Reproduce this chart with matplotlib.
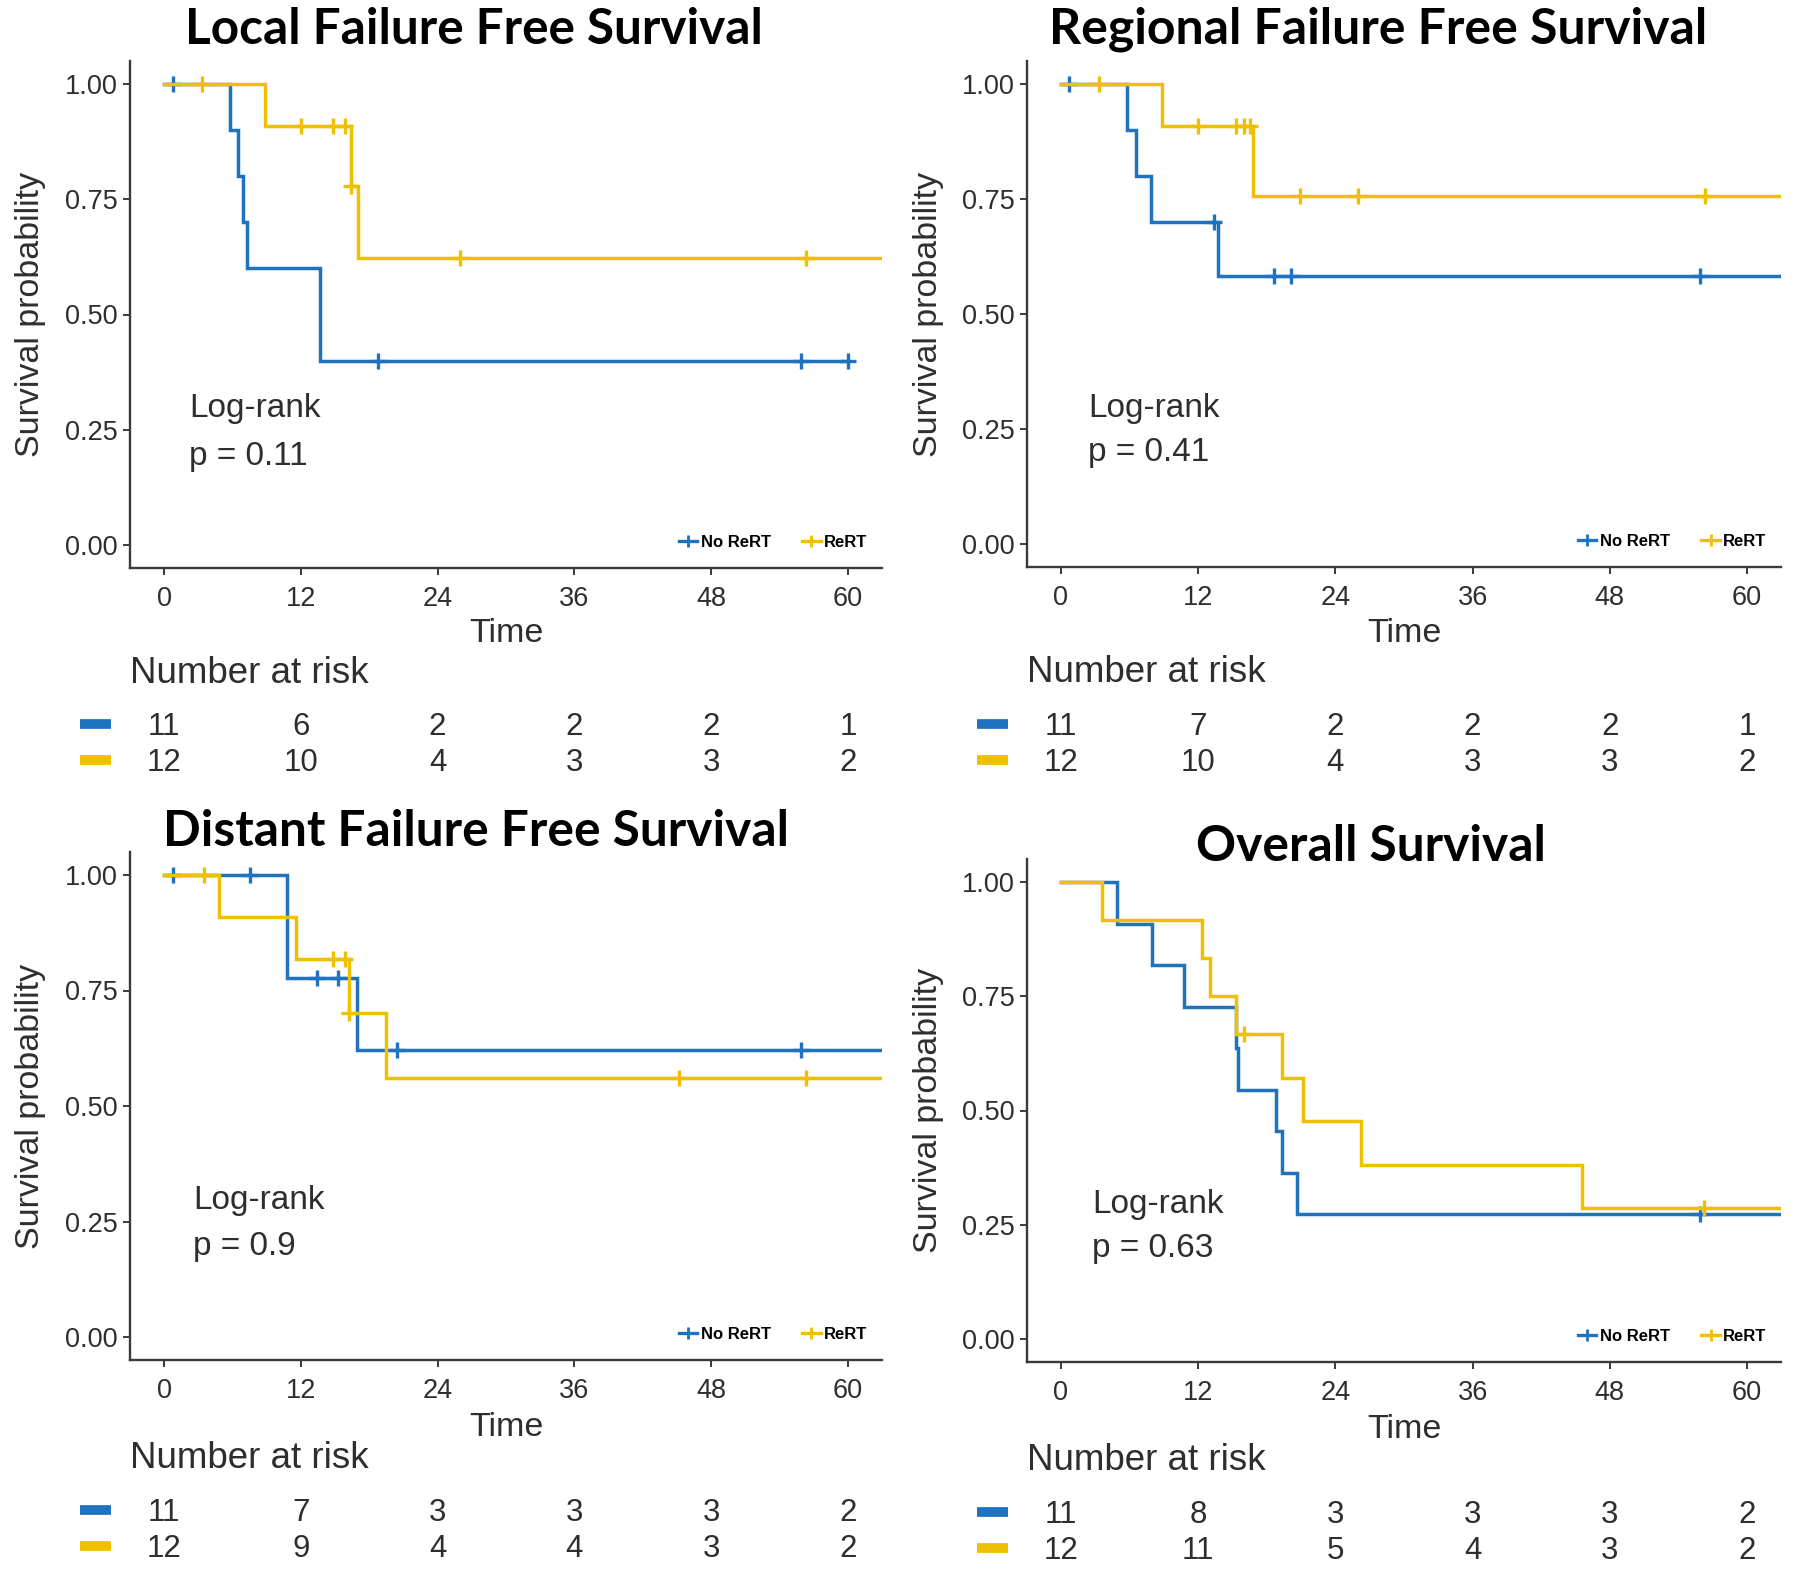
import numpy as np
import matplotlib
matplotlib.use("Agg")
import matplotlib.pyplot as plt
from matplotlib.lines import Line2D
from matplotlib.transforms import blended_transform_factory

# ---------------- data (times in months; event 1 = failure, 0 = censored) -------------
titles = ["Local Failure Free Survival", "Regional Failure Free Survival",
          "Distant Failure Free Survival", "Overall Survival"]
pvalues = ["p = 0.11", "p = 0.41", "p = 0.9", "p = 0.63"]
groups = ["No ReRT", "ReRT"]
risk_times = [0, 12, 24, 36, 48, 60]

local_noRT_time = [0.8, 5.8, 6.5, 6.9, 7.3, 13.7, 13.7, 18.8, 18.8, 55.9, 60.0]
local_noRT_event = [0, 1, 1, 1, 1, 1, 1, 0, 0, 0, 0]
local_RT_time = [3.3, 8.9, 12.0, 14.8, 15.9, 16.4, 16.4, 17.0, 26.0, 56.3, 66.0, 66.0]
local_RT_event = [0, 1, 0, 0, 0, 1, 0, 1, 0, 0, 0, 0]

regional_noRT_time = [0.7, 5.8, 6.6, 7.9, 13.4, 13.7, 18.6, 18.6, 20.1, 55.9, 66.0]
regional_noRT_event = [0, 1, 1, 1, 0, 1, 0, 0, 0, 0, 0]
regional_RT_time = [3.3, 8.8, 12.0, 15.3, 16.0, 16.5, 16.8, 20.9, 26.0, 56.3, 66.0, 66.0]
regional_RT_event = [0, 1, 0, 0, 0, 0, 1, 0, 0, 0, 0, 0]

distant_noRT_time = [0.8, 7.5, 10.8, 10.8, 13.4, 15.3, 16.9, 20.4, 55.9, 66.0, 66.0]
distant_noRT_event = [0, 0, 1, 1, 0, 0, 1, 0, 0, 0, 0]
distant_RT_time = [3.5, 4.8, 11.6, 14.8, 15.9, 16.2, 16.2, 19.5, 45.2, 56.3, 66.0, 66.0]
distant_RT_event = [0, 1, 1, 0, 0, 1, 0, 1, 0, 0, 0, 0]

os_noRT_time = [4.9, 8.0, 10.8, 15.3, 15.5, 18.8, 19.3, 20.6, 55.9, 66.0, 66.0]
os_noRT_event = [1, 1, 1, 1, 1, 1, 1, 1, 0, 0, 0]
os_RT_time = [3.6, 12.3, 13.0, 15.3, 16.0, 19.3, 21.2, 26.2, 45.6, 56.2, 66.0, 66.0]
os_RT_event = [1, 1, 1, 1, 0, 1, 1, 1, 1, 0, 0, 0]

risk_local_noRT = [11, 6, 2, 2, 2, 1]
risk_local_RT = [12, 10, 4, 3, 3, 2]
risk_regional_noRT = [11, 7, 2, 2, 2, 1]
risk_regional_RT = [12, 10, 4, 3, 3, 2]
risk_distant_noRT = [11, 7, 3, 3, 3, 2]
risk_distant_RT = [12, 9, 4, 4, 3, 2]
risk_os_noRT = [11, 8, 3, 3, 3, 2]
risk_os_RT = [12, 11, 5, 4, 3, 2]

# ---------------- style -------------
BLUE = "#1F72BF"
YELLOW = "#EFC000"
colors = [BLUE, YELLOW]
TXT = "#2e2e2e"
FONT = ["Liberation Sans", "DejaVu Sans"]
plt.rcParams["font.family"] = FONT

W, H = 1800, 1581
fig = plt.figure(figsize=(W / 100, H / 100), dpi=100)


def fx(px):
    return px / W


def fy(py):
    return 1 - py / H


def km(times, events):
    t = np.asarray(times, float)
    e = np.asarray(events, int)
    s = 1.0
    xs, ys, cx, cy = [0.0], [1.0], [], []
    for u in np.unique(t):
        n = (t >= u).sum()
        d = ((t == u) & (e == 1)).sum()
        c = ((t == u) & (e == 0)).sum()
        if d > 0:
            s *= 1 - d / n
        xs.append(u)
        ys.append(s)
        if c > 0:
            cx.append(u)
            cy.append(s)
    return xs, ys, cx, cy


panels = [
    dict(data=[(local_noRT_time, local_noRT_event), (local_RT_time, local_RT_event)],
         risk=[risk_local_noRT, risk_local_RT],
         geo=(164, 848, 84, 545), title=(474, 29, 577), time_y=634, nar_y=674, rows=(727, 763),
         lr=(189, 408, 456)),
    dict(data=[(regional_noRT_time, regional_noRT_event), (regional_RT_time, regional_RT_event)],
         risk=[risk_regional_noRT, risk_regional_RT],
         geo=(1061, 1747, 84, 544), title=(1378, 29, 659), time_y=634, nar_y=673, rows=(727, 763),
         lr=(1088, 408, 453)),
    dict(data=[(distant_noRT_time, distant_noRT_event), (distant_RT_time, distant_RT_event)],
         risk=[risk_distant_noRT, risk_distant_RT],
         geo=(164, 848, 875, 1337), title=(476, 831, 625), time_y=1427, nar_y=1458, rows=(1513, 1549),
         lr=(193, 1201, 1247)),
    dict(data=[(os_noRT_time, os_noRT_event), (os_RT_time, os_RT_event)],
         risk=[risk_os_noRT, risk_os_RT],
         geo=(1061, 1747, 882, 1339), title=(1371, 846, 349), time_y=1429, nar_y=1460, rows=(1515, 1551),
         lr=(1092, 1204, 1249)),
]

title_texts = []
for i, p in enumerate(panels):
    x0, x60, y1, y0 = p["geo"]
    sx = (x60 - x0) / 60.0
    sy = (y0 - y1)
    left = x0 - 3 * sx
    right = x60 + 3 * sx
    top = y1 - 0.05 * sy
    bottom = y0 + 0.05 * sy
    ax = fig.add_axes([fx(left), fy(bottom), (right - left) / W, (bottom - top) / H])
    ax.set_xlim(-3, 63)
    ax.set_ylim(-0.05, 1.05)

    for g, (tt, ee) in enumerate(p["data"]):
        xs, ys, cx, cy = km(tt, ee)
        ax.plot(xs, ys, drawstyle="steps-post", color=colors[g], lw=2.5, solid_joinstyle="miter")
        ax.plot(cx, cy, ls="none", marker="+", ms=12, mew=2.4, color=colors[g])

    for side in ["top", "right"]:
        ax.spines[side].set_visible(False)
    for side in ["left", "bottom"]:
        ax.spines[side].set_linewidth(1.7)
        ax.spines[side].set_color("#3a3a3a")
    ax.set_xticks(risk_times)
    ax.set_yticks([0, 0.25, 0.5, 0.75, 1.0])
    ax.set_yticklabels(["0.00", "0.25", "0.50", "0.75", "1.00"])
    ax.tick_params(axis="both", labelsize=19.5, colors="#3a3a3a", labelcolor=TXT, length=5, width=1.4)
    ax.tick_params(axis="x", pad=8)

    # y label
    ymid = (top + bottom) / 2
    fig.text(fx(x0 - 133), fy(ymid), "Survival probability", rotation=90, ha="center", va="center",
             fontsize=24.5, color=TXT)
    # x label
    fig.text(fx((left + right) / 2), fy(p["time_y"]), "Time", ha="center", va="center", fontsize=24.5, color=TXT)
    # title
    tx, ty, tw = p["title"]
    t = fig.text(fx(tx), fy(ty), titles[i], ha="center", va="center", fontsize=30,
                 fontweight="bold", family=["Lato", "DejaVu Sans"], color="black")
    title_texts.append((t, tw))

    # log-rank
    lx, ly1, ly2 = p["lr"]
    fig.text(fx(lx), fy(ly1), "Log-rank", ha="left", va="center", fontsize=24, color=TXT)
    fig.text(fx(lx), fy(ly2), pvalues[i], ha="left", va="center", fontsize=24, color=TXT)

    # legend
    handles = [Line2D([], [], color=colors[g], lw=2.4, marker="+", ms=9, mew=2) for g in range(2)]
    ax.legend(handles, groups, loc="lower right", bbox_to_anchor=(1.0, 0.006), ncol=2, frameon=False,
              prop=dict(size=12, weight="bold"), handlelength=1.1, handletextpad=0.2, columnspacing=1.9)

    # risk table
    trans = blended_transform_factory(ax.transData, fig.transFigure)
    fig.text(fx(left), fy(p["nar_y"]), "Number at risk", ha="left", va="center", fontsize=26.5, color=TXT)
    for g in range(2):
        ry = p["rows"][g]
        fig.add_artist(Line2D([fx(left - 50), fx(left - 19)], [fy(ry - 3), fy(ry - 3)],
                              color=colors[g], lw=7, solid_capstyle="butt"))
        for tm, val in zip(risk_times, p["risk"][g]):
            ax.text(tm, fy(ry), str(val), transform=trans, ha="center", va="center",
                    fontsize=22.5, color=TXT, clip_on=False)

# fit title widths
fig.canvas.draw()
for t, tw in title_texts:
    w = t.get_window_extent().width
    t.set_fontsize(t.get_fontsize() * tw / w)

fig.savefig("out.png", dpi=100, facecolor="white")
